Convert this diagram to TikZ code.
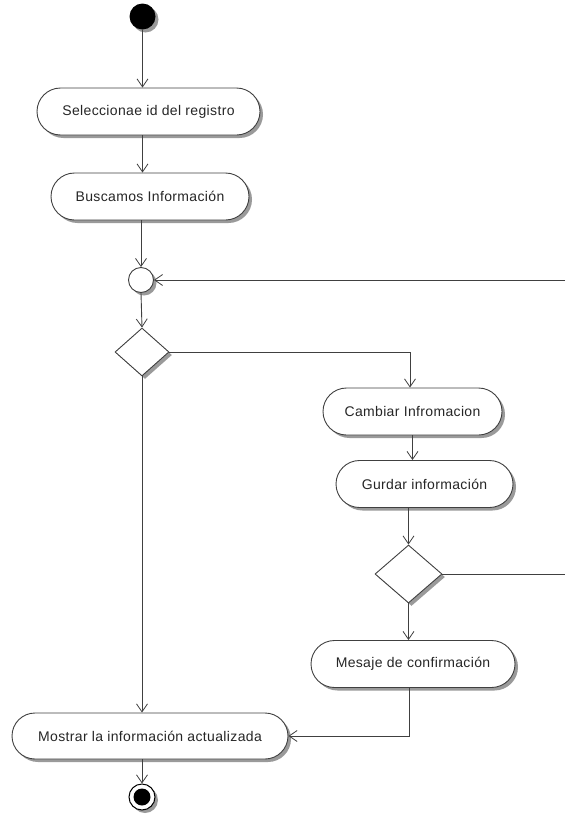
\documentclass[tikz,border=0pt]{standalone}
\usepackage{fontspec}
\setmainfont{Liberation Sans}[LetterSpace=2.5]
\usetikzlibrary{shapes.misc,shapes.geometric,shadows,arrows.meta}
\definecolor{linec}{HTML}{404040}
\definecolor{shadowc}{HTML}{9A9A9A}
\tikzset{
  shad/.style={drop shadow={shadow xshift=3pt,shadow yshift=-3pt,fill=shadowc,opacity=1}},
  act/.style={rounded rectangle,draw=linec,fill=white,line width=0.9pt,shad,
    minimum height=47pt,inner sep=0pt,font=\fontsize{14}{16}\selectfont,text=black!85},
  dec/.style={diamond,draw=linec,fill=white,line width=0.9pt,shad,inner sep=0pt},
  arr/.style={draw=linec,line width=0.9pt,-{Straight Barb[length=8pt,width=11pt,line width=0.8pt]}},
  ln/.style={draw=linec,line width=0.9pt}
}
\begin{document}
\begin{tikzpicture}[x=1pt,y=-1pt]
\useasboundingbox (0,0) rectangle (565,814);
\node[circle,fill=black,minimum size=26pt,inner sep=0pt,shad] (start) at (142.5,16.5) {};
\node[act,minimum width=223pt] (n1) at (148.5,111.5) {Seleccionae id del registro};
\node[act,minimum width=198pt] (n2) at (150,196.5) {Buscamos Información};
\node[circle,draw=linec,fill=white,line width=0.9pt,minimum size=25pt,inner sep=0pt,shad] (merge) at (141,280) {};
\node[dec,minimum width=54pt,minimum height=48pt] (d1) at (142,352) {};
\node[act,minimum width=179pt] (n3) at (412.5,411.5) {Cambiar Infromacion};
\node[act,minimum width=177pt] (n4) at (424.5,484) {Gurdar información};
\node[dec,minimum width=67pt,minimum height=58pt] (d2) at (408.5,574) {};
\node[act,minimum width=204pt] (n5) at (413,664) {Mesaje de confirmación};
\node[act,minimum width=276pt,minimum height=46pt] (n6) at (150,736) {Mostrar la información actualizada};
\node[circle,draw=black,fill=white,line width=1pt,minimum size=26pt,inner sep=0pt,shad] (end) at (142,797) {};
\node[circle,fill=black,minimum size=17pt,inner sep=0pt] (endin) at (end.center) {};
\coordinate (loopR) at (565,280);
\coordinate (d2R) at (565,574);
\draw[arr] (start.south) -- (start.south |- n1.north);
\draw[arr] (start.south |- n1.south) -- (start.south |- n2.north);
\draw[arr] (merge.north |- n2.south) -- (merge.north);
\draw[arr] (loopR) -- (merge.east);
\draw[arr] (merge.south) -- (d1.north);
\draw[arr] (d1.east) -| ([xshift=-2.5pt]n3.north);
\draw[arr] (n3.south) -- (n3.south |- n4.north);
\draw[arr] (d2.north |- n4.south) -- (d2.north);
\draw[ln] (d2.east) -- (d2R);
\draw[arr] (d2.south) -- (d2.south |- n5.north);
\draw[arr] ([xshift=0.5pt]d2.south |- n5.south) |- (n6.east);
\draw[arr] (d1.south) -- (d1.south |- n6.north);
\draw[arr] (end.north |- n6.south) -- (end.north);
\end{tikzpicture}
\end{document}
